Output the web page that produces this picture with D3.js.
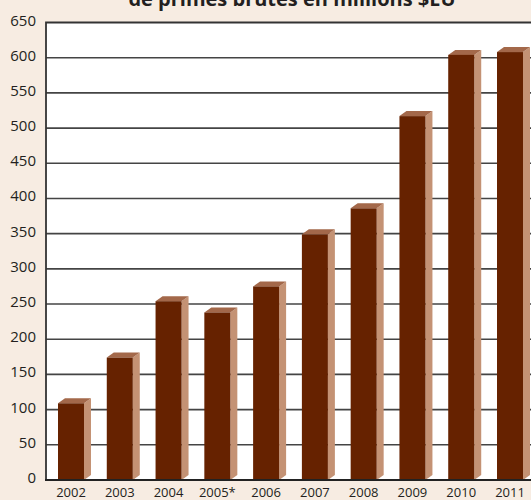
<!DOCTYPE html>
<html>
<head>
<meta charset="utf-8">
<script src="https://cdn.jsdelivr.net/npm/d3@7"></script>
<style>
  html, body { margin: 0; padding: 0; background: #f7ece2; }
  svg { display: block; }
</style>
</head>
<body>
<svg id="chart" width="531" height="500"></svg>
<script>
// Primes brutes par année (millions $EU)
const years = ["2002", "2003", "2004", "2005*", "2006", "2007", "2008", "2009", "2010", "2011"];
const premiums = [109, 174, 254, 238, 275, 349, 386, 517, 604, 608];
const yTicks = [0, 50, 100, 150, 200, 250, 300, 350, 400, 450, 500, 550, 600, 650];
const titleLine = "de primes brutes en millions $EU";

const W = 531, H = 500;
const plot = { left: 46, top: 22.5, bottom: 480, right: 535 };
const depthX = 7, depthY = 5;
const font = "'Open Sans', 'DejaVu Sans', sans-serif";

const svg = d3.select("#chart");

svg.append("rect").attr("width", W).attr("height", H).attr("fill", "#f7ece2");

const x = d3.scaleBand()
  .domain(years)
  .range([plot.left, plot.right])
  .paddingInner(0.467)
  .paddingOuter(0.246);

const y = d3.scaleLinear()
  .domain([0, 650])
  .range([plot.bottom, plot.top]);

// Plot background
svg.append("rect")
  .attr("x", plot.left).attr("y", plot.top)
  .attr("width", plot.right - plot.left).attr("height", plot.bottom - plot.top)
  .attr("fill", "#ffffff");

// Horizontal gridlines
svg.append("g")
  .selectAll("line")
  .data(yTicks.filter(d => d > 0 && d < 650))
  .join("line")
  .attr("x1", plot.left).attr("x2", plot.right)
  .attr("y1", d => y(d)).attr("y2", d => y(d))
  .attr("stroke", "#444")
  .attr("stroke-width", 1.6);

// Top and left frame
svg.append("path")
  .attr("d", `M${plot.right},${y(650)} H${plot.left} V${plot.bottom}`)
  .attr("fill", "none")
  .attr("stroke", "#333")
  .attr("stroke-width", 1.8);

// Bars with pseudo-3D faces
const bars = svg.append("g")
  .selectAll("g")
  .data(years.map((yr, i) => ({ yr, v: premiums[i] })))
  .join("g");

bars.append("path") // right side face
  .attr("d", d => {
    const x1 = x(d.yr) + x.bandwidth(), yt = y(d.v), yb = y(0);
    return `M${x1},${yb} L${x1},${yt} L${x1 + depthX},${yt - depthY} L${x1 + depthX},${yb - depthY} Z`;
  })
  .attr("fill", "#c49274");

bars.append("path") // top face
  .attr("d", d => {
    const x0 = x(d.yr), x1 = x0 + x.bandwidth(), yt = y(d.v);
    return `M${x0},${yt} L${x0 + depthX},${yt - depthY} L${x1 + depthX},${yt - depthY} L${x1},${yt} Z`;
  })
  .attr("fill", "#a3684a");

bars.append("rect") // front face
  .attr("x", d => x(d.yr))
  .attr("y", d => y(d.v))
  .attr("width", x.bandwidth())
  .attr("height", d => y(0) - y(d.v))
  .attr("fill", "#662200");

// Baseline
svg.append("line")
  .attr("x1", plot.left - 1).attr("x2", plot.right)
  .attr("y1", plot.bottom).attr("y2", plot.bottom)
  .attr("stroke", "#222")
  .attr("stroke-width", 2.2);

// Y axis labels
svg.append("g")
  .selectAll("text")
  .data(yTicks)
  .join("text")
  .attr("x", 36)
  .attr("y", d => y(d) - 1)
  .attr("text-anchor", "end")
  .attr("dominant-baseline", "middle")
  .attr("font-family", font)
  .attr("font-size", 15)
  .attr("fill", "#231f20")
  .text(d => d);

// X axis labels
svg.append("g")
  .selectAll("text")
  .data(years)
  .join("text")
  .attr("x", d => x(d) + x.bandwidth() / 2)
  .attr("y", 497)
  .attr("text-anchor", "middle")
  .attr("font-family", font)
  .attr("font-size", 13)
  .attr("fill", "#231f20")
  .text(d => d);

// Title (second line, running above the top edge)
svg.append("text")
  .attr("x", 292)
  .attr("y", 6)
  .attr("text-anchor", "middle")
  .attr("font-family", font)
  .attr("font-weight", "bold")
  .attr("font-size", 20)
  .attr("fill", "#231f20")
  .text(titleLine);
</script>
</body>
</html>
